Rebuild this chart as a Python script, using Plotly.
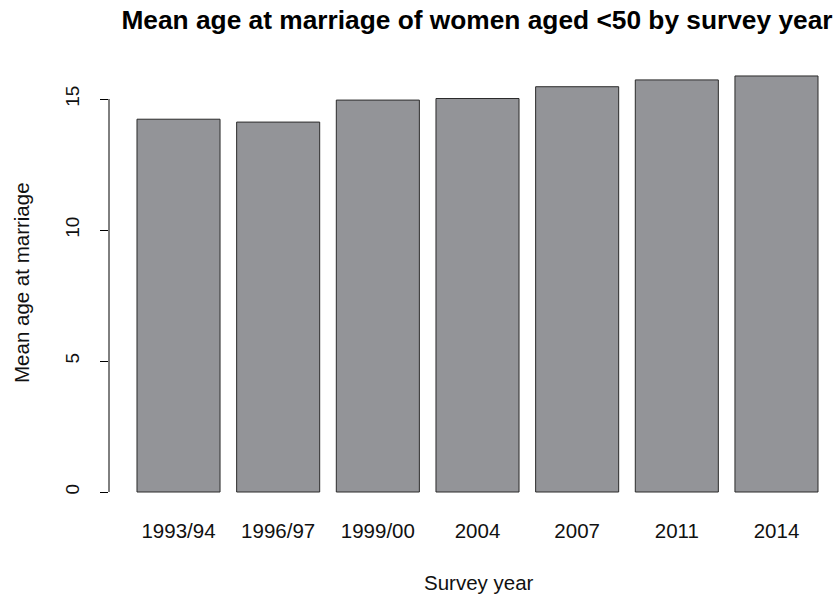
import plotly.graph_objects as go

survey_years = ["1993/94", "1996/97", "1999/00", "2004", "2007", "2011", "2014"]
mean_age = [14.23, 14.12, 14.96, 15.02, 15.47, 15.73, 15.88]
y_ticks = [0, 5, 10, 15]

# R barplot layout: width 1, space 0.2
positions = [0.7 + 1.2 * i for i in range(len(survey_years))]

FONT = "Liberation Sans, Arial, sans-serif"

W, H = 839, 599
L, T = 109, 60
PLOT_BOTTOM = 500
B = H - PLOT_BOTTOM
R = 0
PW, PH = W - L - R, H - T - B

fig = go.Figure()
fig.add_trace(go.Bar(
    x=positions, y=mean_age, width=1.0,
    marker=dict(color="#939498", line=dict(color="#2b2b2b", width=1)),
    hoverinfo="skip",
))

x_lo = -0.137
x_hi = x_lo + PW / 83.05

fig.update_layout(
    width=W, height=H,
    margin=dict(l=L, r=R, t=T, b=B, pad=0),
    paper_bgcolor="white", plot_bgcolor="white",
    showlegend=False,
    font=dict(family=FONT, color="#111111"),
    title=dict(
        text="<b>Mean age at marriage of women aged &lt;50 by survey year</b>",
        x=477 / W, xref="container", xanchor="center",
        y=1 - 20 / H, yref="container", yanchor="middle",
        font=dict(family=FONT, size=26.3, color="#000000"),
    ),
    xaxis=dict(
        range=[x_lo, x_hi],
        tickvals=positions, ticktext=survey_years,
        showline=False, showgrid=False, zeroline=False, ticks="",
        tickfont=dict(size=20.5, family=FONT, color="#111111"),
        ticklabelstandoff=16,
    ),
    yaxis=dict(
        range=[-0.305, 16.49],
        tickvals=y_ticks, ticktext=[str(v) for v in y_ticks],
        showline=False, showgrid=False, zeroline=False,
        ticks="outside", ticklen=8, tickcolor="#000000", tickwidth=1,
        tickangle=-90,
        tickfont=dict(size=19, family=FONT, color="#111111"),
        ticklabelstandoff=13,
    ),
    shapes=[dict(
        type="line", xref="paper", x0=0, x1=0, yref="y", y0=y_ticks[0], y1=y_ticks[-1],
        line=dict(color="#000000", width=1),
    )],
    annotations=[
        dict(text="Mean age at marriage", xref="paper", yref="paper",
             x=(21 - L) / PW, y=(PLOT_BOTTOM - 283) / PH, xanchor="center", yanchor="middle",
             textangle=-90, showarrow=False, font=dict(size=20.5, family=FONT, color="#111111")),
        dict(text="Survey year", xref="paper", yref="paper",
             x=(479 - L) / PW, y=(PLOT_BOTTOM - 582) / PH, xanchor="center", yanchor="middle",
             showarrow=False, font=dict(size=20.5, family=FONT, color="#111111")),
    ],
)

fig.write_html(
    "out.html",
    config={"displayModeBar": False, "staticPlot": True},
    post_script="document.body.style.margin='0';document.body.style.padding='0';",
)
